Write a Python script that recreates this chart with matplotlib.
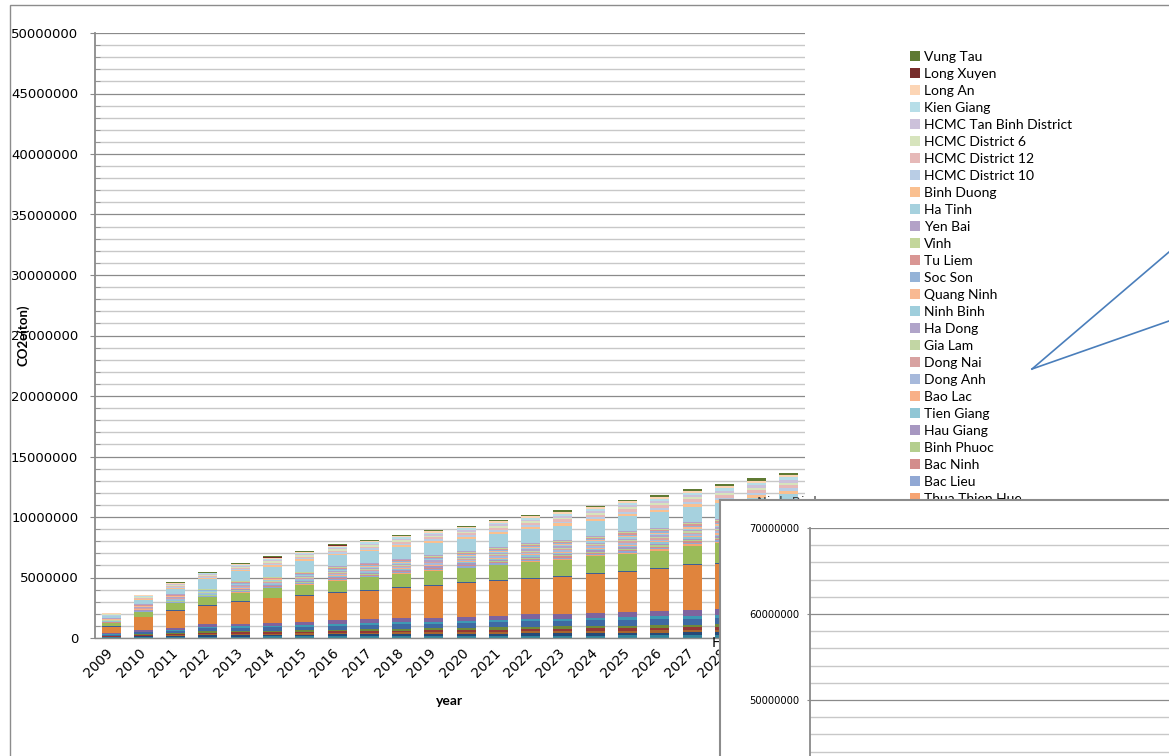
import matplotlib
matplotlib.use("Agg")
import matplotlib.pyplot as plt
from matplotlib import font_manager
from matplotlib.ticker import MultipleLocator, FuncFormatter
from matplotlib.patches import Rectangle
from matplotlib.lines import Line2D
import numpy as np

# ---- data (kt CO2e per year, stacked bottom -> top) ----
years = ['2009', '2010', '2011', '2012', '2013', '2014', '2015', '2016', '2017', '2018', '2019',
         '2020', '2021', '2022', '2023', '2024', '2025', '2026', '2027', '2028', '2029', '2030']

hoan_kiem = [42, 64, 82, 110, 121, 125, 137, 143, 158, 160, 172, 175, 187, 193, 202, 206, 217, 220, 232, 236, 247, 250]
ba_dinh = [38, 67, 78, 115, 118, 129, 133, 147, 155, 164, 168, 178, 183, 197, 198, 210, 213, 224, 228, 240, 243, 254]
dong_da = [30, 55, 62, 92, 95, 104, 106, 118, 124, 132, 134, 143, 146, 158, 158, 168, 170, 180, 182, 192, 194, 204]
hai_ba_trung = [41, 65, 81, 112, 122, 126, 136, 144, 159, 161, 171, 174, 186, 194, 201, 207, 216, 221, 231, 237, 246, 251]
cau_giay = [39, 66, 79, 114, 119, 128, 134, 146, 156, 163, 169, 177, 184, 196, 199, 209, 214, 223, 229, 239, 244, 253]
long_bien = [86, 147, 174, 251, 262, 281, 295, 321, 343, 358, 372, 389, 405, 431, 438, 460, 471, 490, 504, 526, 537, 556]
thanh_xuan = [40, 66, 80, 113, 120, 127, 135, 145, 157, 162, 170, 176, 185, 195, 200, 208, 215, 222, 230, 238, 245, 252]
hoang_mai = [78, 134, 158, 228, 238, 256, 268, 292, 312, 326, 338, 354, 368, 392, 398, 418, 428, 446, 458, 478, 488, 506]
hai_phong = [550, 1050, 1460, 1540, 1800, 2000, 2150, 2250, 2340, 2500, 2620, 2750, 2850, 2950, 3050, 3200, 3300, 3450, 3700, 3750, 3850, 3950]
thanh_hoa = [30, 40, 50, 55, 60, 60, 65, 70, 70, 75, 75, 80, 80, 85, 85, 90, 90, 95, 95, 100, 100, 105]
da_nang = [250, 370, 550, 635, 690, 770, 835, 930, 1030, 1075, 1125, 1160, 1220, 1265, 1315, 1360, 1410, 1455, 1555, 1600, 1650, 1695]
thua_thien_hue = [21, 31, 38, 34, 49, 46, 54, 58, 60, 61, 67, 68, 77, 78, 84, 84, 94, 92, 96, 98, 106, 108]
bac_lieu = [26, 45, 51, 49, 66, 67, 73, 84, 81, 87, 91, 98, 105, 112, 115, 119, 129, 131, 132, 139, 146, 154]
bac_ninh = [24, 37, 45, 40, 58, 55, 64, 70, 71, 73, 80, 82, 92, 94, 100, 100, 112, 111, 115, 117, 127, 130]
binh_phuoc = [19, 33, 36, 36, 47, 48, 52, 60, 58, 63, 65, 70, 75, 80, 82, 86, 92, 94, 94, 100, 104, 110]
hau_giang = [28, 43, 53, 47, 68, 65, 75, 82, 83, 85, 93, 96, 107, 110, 117, 117, 131, 129, 134, 137, 148, 152]
tien_giang = [22, 39, 43, 42, 56, 57, 62, 72, 69, 75, 78, 84, 90, 96, 98, 102, 110, 113, 113, 119, 125, 132]
bao_lac = [20, 32, 37, 35, 48, 47, 53, 59, 59, 62, 66, 69, 76, 79, 83, 85, 93, 93, 95, 99, 105, 109]
dong_anh = [30, 51, 58, 56, 75, 76, 83, 95, 93, 99, 105, 111, 121, 127, 131, 136, 147, 150, 151, 159, 167, 175]
dong_nai = [27, 44, 52, 48, 67, 66, 74, 83, 82, 86, 92, 97, 106, 111, 116, 118, 130, 130, 133, 138, 147, 153]
gia_lam = [21, 33, 38, 34, 48, 46, 53, 60, 58, 62, 67, 69, 76, 78, 83, 86, 93, 92, 96, 99, 106, 109]
ha_dong = [27, 45, 51, 48, 68, 66, 73, 83, 83, 86, 91, 97, 107, 111, 115, 118, 131, 130, 132, 138, 148, 153]
ninh_binh = [23, 38, 44, 41, 57, 56, 63, 71, 70, 74, 79, 83, 91, 95, 99, 101, 111, 112, 114, 118, 126, 131]
quang_ninh = [20, 31, 37, 36, 47, 47, 54, 59, 59, 61, 66, 70, 76, 79, 82, 85, 94, 93, 95, 98, 105, 110]
soc_son = [26, 44, 53, 48, 66, 66, 74, 84, 82, 87, 92, 96, 106, 112, 116, 117, 130, 131, 133, 137, 147, 154]
tu_liem = [23, 39, 44, 41, 57, 57, 63, 70, 70, 74, 79, 84, 91, 95, 100, 101, 111, 111, 114, 119, 126, 130]
vinh = [20, 32, 36, 35, 49, 47, 53, 59, 60, 62, 66, 69, 75, 79, 83, 85, 93, 94, 95, 99, 104, 109]
yen_bai = [19, 32, 37, 35, 48, 48, 53, 58, 59, 62, 66, 68, 76, 80, 83, 84, 93, 93, 96, 99, 105, 110]
ha_tinh = [200, 350, 450, 770, 800, 830, 900, 920, 960, 1000, 1030, 1050, 1080, 1120, 1150, 1180, 1220, 1250, 1250, 1300, 1350, 1400]
binh_duong = [38, 68, 83, 95, 105, 125, 128, 135, 144, 150, 155, 161, 173, 180, 188, 195, 207, 213, 225, 233, 248, 263]
hcmc_d10 = [30, 54, 66, 76, 84, 100, 102, 108, 115, 120, 124, 128, 138, 144, 150, 156, 166, 170, 180, 186, 198, 210]
hcmc_d12 = [35, 63, 77, 88, 98, 116, 119, 126, 134, 140, 144, 150, 161, 168, 175, 182, 193, 199, 210, 217, 231, 245]
hcmc_d6 = [33, 59, 72, 82, 91, 108, 111, 117, 125, 130, 134, 139, 150, 156, 163, 169, 179, 185, 195, 202, 215, 228]
hcmc_tan_binh = [31, 53, 67, 75, 85, 99, 103, 107, 116, 119, 125, 127, 139, 143, 151, 155, 167, 169, 181, 185, 199, 209]
kien_giang = [32, 60, 71, 83, 90, 109, 110, 118, 124, 131, 133, 140, 149, 157, 162, 170, 178, 186, 194, 203, 214, 229]
long_an = [25, 45, 55, 63, 70, 83, 85, 90, 96, 100, 103, 107, 115, 120, 125, 130, 138, 142, 150, 155, 165, 175]
long_xuyen = [0, 0, 30, 0, 0, 45, 0, 40, 0, 0, 0, 0, 0, 0, 45, 0, 0, 0, 0, 45, 0, 0]
vung_tau = [28, 50, 61, 69, 77, 91, 94, 99, 106, 110, 113, 118, 127, 132, 138, 143, 152, 156, 165, 171, 182, 193]

series_values = [hoan_kiem, ba_dinh, dong_da, hai_ba_trung, cau_giay, long_bien, thanh_xuan, hoang_mai,
                 hai_phong, thanh_hoa, da_nang,
                 thua_thien_hue, bac_lieu, bac_ninh, binh_phuoc, hau_giang, tien_giang, bao_lac,
                 dong_anh, dong_nai, gia_lam, ha_dong, ninh_binh, quang_ninh,
                 soc_son, tu_liem, vinh, yen_bai, ha_tinh, binh_duong,
                 hcmc_d10, hcmc_d12, hcmc_d6, hcmc_tan_binh, kien_giang, long_an, long_xuyen, vung_tau]
series_names = ['Hoan Kiem', 'Ba Dinh', 'Dong Da', 'Hai Ba Trung', 'Cau Giay', 'Long Bien', 'Thanh Xuan', 'Hoang Mai',
                'Hai Phong', 'Thanh Hoa', 'Da Nang',
                'Thua Thien Hue', 'Bac Lieu', 'Bac Ninh', 'Binh Phuoc', 'Hau Giang', 'Tien Giang', 'Bao Lac',
                'Dong Anh', 'Dong Nai', 'Gia Lam', 'Ha Dong', 'Ninh Binh', 'Quang Ninh',
                'Soc Son', 'Tu Liem', 'Vinh', 'Yen Bai', 'Ha Tinh', 'Binh Duong',
                'HCMC District 10', 'HCMC District 12', 'HCMC District 6', 'HCMC Tan Binh District',
                'Kien Giang', 'Long An', 'Long Xuyen', 'Vung Tau']
series_colors = ['#31859C', '#254A7A', '#A8652E', '#953735', '#6F8A3A', '#3F6AA3', '#3E9AB4', '#7E649E',
                 '#E0843D', '#3D5F95', '#9BBB59',
                 '#F6A473', '#91A8D4', '#D38D8C', '#B4CE8E', '#A797C1', '#90C6D5', '#F8B088',
                 '#A7B9DB', '#D8A2A1', '#C2D6A4', '#B0A4C9', '#9FCEDC', '#F8B992',
                 '#95B3D7', '#D99694', '#C3D69B', '#B3A2C7', '#A6D1DE', '#FAC090',
                 '#B9CDE5', '#E6B9B8', '#D7E4BD', '#CCC1DA', '#B7DEE8', '#FCD5B5', '#772C2A', '#5F7A33']

# ---- layout helpers (pixel -> figure fraction) ----
W, H = 1169, 756
def fx(px):
    return px / W
def fy(py):
    return 1 - py / H

plt.rcParams['font.family'] = 'DejaVu Sans'
fig = plt.figure(figsize=(W / 100, H / 100), dpi=100)
fig.patch.set_facecolor('white')

# outer chart border
fig.add_artist(Rectangle((fx(10), -0.2), 1.2, fy(5) + 0.2, transform=fig.transFigure,
                         fill=False, edgecolor='#8C8C8C', linewidth=1.0, zorder=1))

# ---- main stacked bar chart ----
ax = fig.add_axes([fx(95), fy(638), 710 / W, 605 / H])
ax.set_facecolor('none')
x = np.arange(len(years))
bottom = np.zeros(len(years))
bars = []
for name, color, vals in zip(series_names, series_colors, series_values):
    v = np.array(vals, dtype=float) * 1000
    b = ax.bar(x, v, 0.59, bottom=bottom, color=color, linewidth=0, label=name)
    bottom += v
    bars.append(b)

ax.set_xlim(-0.5, len(years) - 0.5)
ax.set_ylim(0, 50000000)
ax.set_yticks(np.arange(0, 50000001, 5000000))
ax.yaxis.set_minor_locator(MultipleLocator(1000000))
ax.yaxis.set_major_formatter(FuncFormatter(lambda v, p: f"{int(v)}"))
ax.set_axisbelow(True)
ax.grid(axis='y', which='major', color='#8A8A8A', linewidth=0.9)
ax.grid(axis='y', which='minor', color='#C8C8C8', linewidth=1.0)
for s in ['top', 'right']:
    ax.spines[s].set_visible(False)
ax.spines['left'].set_color('#8A8A8A')
ax.spines['left'].set_linewidth(1.3)
ax.spines['bottom'].set_color('#8A8A8A')
ax.spines['bottom'].set_linewidth(1.0)
ax.tick_params(axis='y', which='major', direction='out', length=3.6, color='#8A8A8A',
               pad=8.5, labelsize=9.5)
ax.tick_params(axis='y', which='minor', direction='in', length=3.6, color='#8A8A8A')
ax.set_xticks(x)
ax.set_xticklabels(years, rotation=45, ha='right', va='center', rotation_mode='anchor', fontsize=9.8)
ax.tick_params(axis='x', length=0, pad=9)

ax.set_ylabel('CO2e(ton)', fontsize=9.5, fontweight='bold', family='Lato')
ax.yaxis.set_label_coords((29 - 95) / 710, 0.5)
ax.set_xlabel('year', fontsize=10, fontweight='bold', family='Lato')
ax.xaxis.set_label_coords(0.5, -(695 - 638) / 605)

ax.legend(bars[::-1], series_names[::-1], loc='upper left',
          bbox_to_anchor=(fx(910), fy(51)), bbox_transform=fig.transFigure,
          frameon=False, prop={'family': 'Lato', 'size': 10},
          handlelength=0.72, handleheight=0.72, handletextpad=0.3,
          labelspacing=0.36, borderpad=0, borderaxespad=0)

# callout lines
fig.add_artist(Line2D([fx(1032), fx(1169)], [fy(369), fy(252)], transform=fig.transFigure,
                      color='#4A7EBB', linewidth=1.2, zorder=4))
fig.add_artist(Line2D([fx(1032), fx(1169)], [fy(369), fy(321)], transform=fig.transFigure,
                      color='#4A7EBB', linewidth=1.2, zorder=4))

# stray labels under the second chart
fig.text(fx(757), fy(503), 'Ninh Binh', fontsize=9.5, color='#404040', va='center', zorder=4)
fig.text(fx(712), fy(643), 'Ha Tinh', fontsize=10, color='black', va='center', zorder=4)

# ---- second chart box ----
box = fig.add_axes([fx(720), fy(820), 500 / W, 320 / H], zorder=5)
box.set_facecolor('white')
box.set_xticks([])
box.set_yticks([])
for s in box.spines.values():
    s.set_color('#8C8C8C')
    s.set_linewidth(1.5)

ax2 = fig.add_axes([fx(810), fy(786), 500 / W, 258 / H], zorder=6)
ax2.set_facecolor('none')
ax2.set_ylim(40000000, 70000000)
ax2.set_yticks(np.arange(50000000, 70000001, 10000000))
ax2.yaxis.set_minor_locator(MultipleLocator(2000000))
ax2.yaxis.set_major_formatter(FuncFormatter(lambda v, p: f"{int(v)}"))
ax2.set_xticks([])
ax2.grid(axis='y', which='major', color='#8A8A8A', linewidth=0.9)
ax2.grid(axis='y', which='minor', color='#C8C8C8', linewidth=1.0)
for s in ['top', 'right', 'bottom']:
    ax2.spines[s].set_visible(False)
ax2.spines['left'].set_color('#8A8A8A')
ax2.spines['left'].set_linewidth(1.3)
ax2.tick_params(axis='y', which='major', direction='out', length=2.5, color='#8A8A8A', pad=5)
ax2.tick_params(axis='y', which='minor', length=0)

# narrow face for the second chart's labels, if one is installed
font_names = {f.name for f in font_manager.fontManager.ttflist}
condensed = [f for f in font_manager.fontManager.ttflist
             if f.name == 'DejaVu Sans' and 'condensed' in str(f.stretch)]
for lab in ax2.get_yticklabels():
    if 'Liberation Sans Narrow' in font_names:
        lab.set_fontfamily('Liberation Sans Narrow')
        lab.set_fontsize(9.5)
    elif condensed:
        lab.set_fontfamily('DejaVu Sans')
        lab.set_fontstretch('condensed')
        lab.set_fontsize(8)
    else:
        lab.set_fontfamily('Lato')
        lab.set_fontsize(8.6)

fig.savefig('out.png', dpi=100)
